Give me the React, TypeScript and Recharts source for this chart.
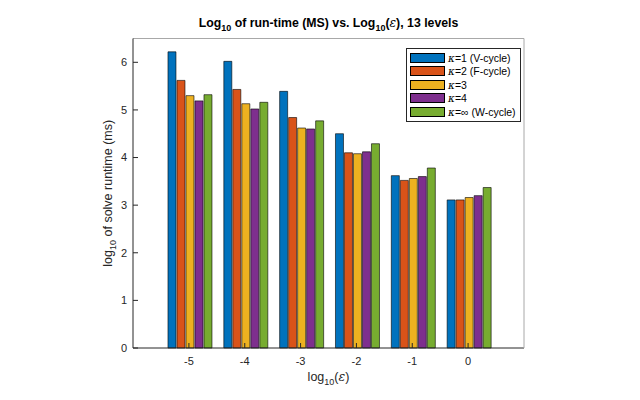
import React from 'react';
import { BarChart, Bar, XAxis, YAxis, Legend, Label } from 'recharts';

const epsLevels = [-5, -4, -3, -2, -1, 0];

const vCycle = [6.22, 6.02, 5.39, 4.5, 3.62, 3.11];
const fCycle = [5.62, 5.43, 4.84, 4.1, 3.52, 3.11];
const kappa3 = [5.3, 5.13, 4.62, 4.08, 3.56, 3.16];
const kappa4 = [5.19, 5.02, 4.6, 4.12, 3.6, 3.2];
const wCycle = [5.32, 5.16, 4.77, 4.29, 3.78, 3.37];

const yTicks = [0, 1, 2, 3, 4, 5, 6];

const SERIES = [
  { key: 'k1', values: vCycle, color: '#0072BD', rest: '=1 (V-cycle)' },
  { key: 'k2', values: fCycle, color: '#D95319', rest: '=2 (F-cycle)' },
  { key: 'k3', values: kappa3, color: '#EDB120', rest: '=3' },
  { key: 'k4', values: kappa4, color: '#7E2F8E', rest: '=4' },
  { key: 'kInf', values: wCycle, color: '#77AC30', rest: '=\u221E (W-cycle)' },
];

const data = epsLevels.map((eps, i) => {
  const row: Record<string, number> = { eps };
  SERIES.forEach((s) => {
    row[s.key] = s.values[i];
  });
  return row;
});

const FONT = '"Liberation Sans", Arial, Helvetica, sans-serif';
const AXIS = '#262626';
const BOX = '#a8a8a8';

const TitleLabel = ({ viewBox }: any) => {
  const cx = viewBox.x + viewBox.width / 2;
  return (
    <text x={cx} y={viewBox.y - 10.5} textAnchor="middle" fontFamily={FONT} fontSize={12.3} fontWeight="bold" fill="#000">
      Log<tspan dy={3.5} fontSize={9}>10</tspan>
      <tspan dy={-3.5}> of run-time (MS) vs. Log</tspan>
      <tspan dy={3.5} fontSize={9}>10</tspan>
      <tspan dy={-3.5}>(</tspan>
      <tspan fontFamily="DejaVu Serif" fontStyle="italic" fontWeight="normal">{'\u03B5'}</tspan>
      <tspan>), 13 levels</tspan>
    </text>
  );
};

const XLabel = ({ viewBox }: any) => {
  const cx = viewBox.x + viewBox.width / 2;
  return (
    <text x={cx} y={viewBox.y + 33} textAnchor="middle" fontFamily={FONT} fontSize={12.5} fill={AXIS}>
      log<tspan dy={3.5} fontSize={9}>10</tspan>
      <tspan dy={-3.5}>(</tspan>
      <tspan fontFamily="DejaVu Serif" fontStyle="italic">{'\u03B5'}</tspan>
      <tspan>)</tspan>
    </text>
  );
};

const YLabel = ({ viewBox }: any) => {
  const x = viewBox.x + 19;
  const y = viewBox.y + viewBox.height / 2;
  return (
    <text x={x} y={y} transform={`rotate(-90 ${x} ${y})`} textAnchor="middle" fontFamily={FONT} fontSize={12.5} fill={AXIS}>
      log<tspan dy={3.5} fontSize={9}>10</tspan>
      <tspan dy={-3.5}> of solve runtime (ms)</tspan>
    </text>
  );
};

const KappaLegend = () => (
  <div
    style={{
      border: `1px solid ${AXIS}`,
      background: '#fff',
      padding: '2px 4px 2px 3px',
      fontFamily: FONT,
      fontSize: 10.5,
      color: '#000',
    }}
  >
    {SERIES.map((s) => (
      <div key={s.key} style={{ display: 'flex', alignItems: 'center', height: 13.5, whiteSpace: 'nowrap' }}>
        <span
          style={{
            display: 'inline-block',
            width: 33,
            height: 8,
            background: s.color,
            border: '0.5px solid #000',
            marginRight: 3,
          }}
        />
        <span>
          <i style={{ fontFamily: 'DejaVu Serif' }}>{'\u03BA'}</i>
          {s.rest}
        </span>
      </div>
    ))}
  </div>
);

export default function App() {
  return (
    <div style={{ position: 'absolute', left: 0, top: 0, width: 640, height: 400, background: '#fff' }}>
      <BarChart
        width={640}
        height={400}
        data={data}
        margin={{ top: 37.5, right: 115, left: 93, bottom: 12 }}
        barCategoryGap="12.5%"
        barGap={1}
      >
        <XAxis
          xAxisId="bottom"
          dataKey="eps"
          height={40}
          padding={{ left: 28, right: 28 }}
          stroke={AXIS}
          tickSize={-5}
          tickMargin={14}
          tick={{ fill: AXIS, fontSize: 11, fontFamily: FONT }}
          tickLine={{ stroke: AXIS }}
        >
          <Label content={<XLabel />} />
        </XAxis>
        <XAxis
          xAxisId="top"
          dataKey="eps"
          orientation="top"
          height={1}
          padding={{ left: 28, right: 28 }}
          axisLine={{ stroke: BOX }}
          tickLine={{ stroke: AXIS }}
          tickSize={-5}
          tick={false}
        >
          <Label content={<TitleLabel />} />
        </XAxis>
        <YAxis
          yAxisId="left"
          width={40}
          domain={[0, 6.5]}
          ticks={yTicks}
          stroke={AXIS}
          tickSize={-5}
          tickMargin={11}
          tick={{ fill: AXIS, fontSize: 11, fontFamily: FONT }}
          tickLine={{ stroke: AXIS }}
        >
          <Label content={<YLabel />} />
        </YAxis>
        <YAxis
          yAxisId="right"
          orientation="right"
          width={1}
          domain={[0, 6.5]}
          ticks={yTicks}
          allowDataOverflow
          axisLine={{ stroke: BOX }}
          tickLine={{ stroke: AXIS }}
          tickSize={-5}
          tick={false}
        />
        <Legend
          layout="vertical"
          align="center"
          verticalAlign="middle"
          content={<KappaLegend />}
          wrapperStyle={{ left: 406, top: 48, width: 'auto', height: 'auto' }}
        />
        {SERIES.map((s) => (
          <Bar
            key={s.key}
            dataKey={s.key}
            xAxisId="bottom"
            yAxisId="left"
            fill={s.color}
            stroke="#000"
            strokeWidth={0.6}
            isAnimationActive={false}
          />
        ))}
      </BarChart>
    </div>
  );
}
